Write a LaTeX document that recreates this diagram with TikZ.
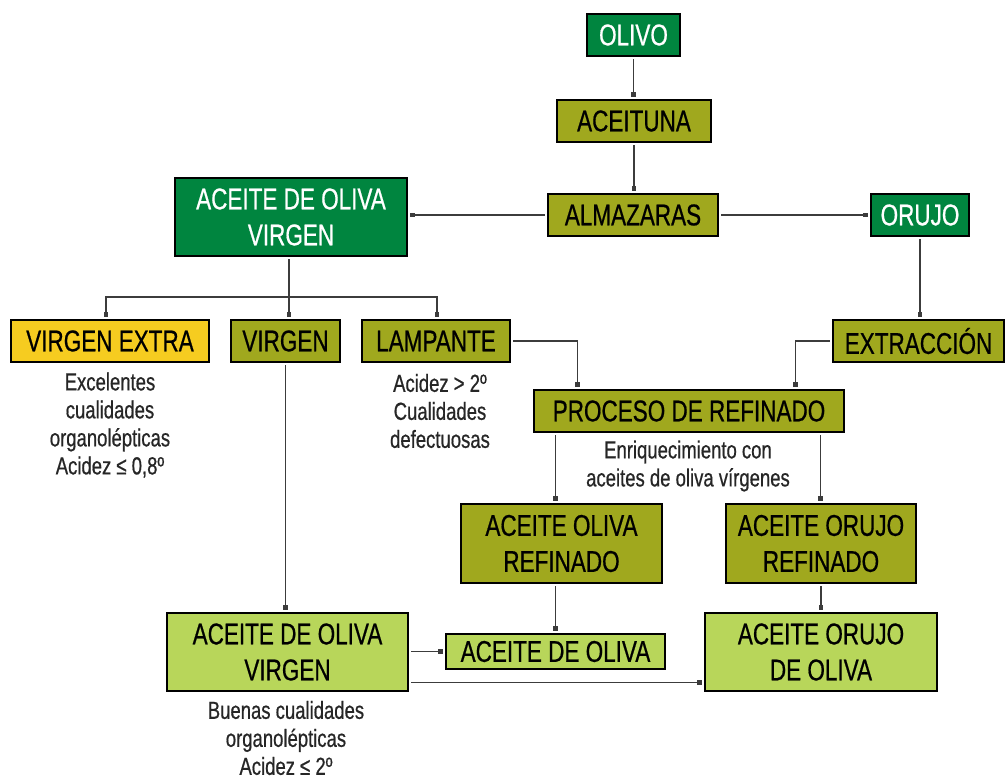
\documentclass[tikz,border=0pt]{standalone}
\usepackage{fontspec}
\setmainfont[FakeStretch=0.75,FakeBold=0.6]{Liberation Sans}
\usetikzlibrary{arrows.meta,calc}
\definecolor{dkgreen}{RGB}{0,133,63}
\definecolor{olive}{RGB}{160,168,30}
\definecolor{ltgreen}{RGB}{184,214,90}
\definecolor{gold}{RGB}{246,204,32}
\definecolor{linegray}{RGB}{60,60,60}
\newcommand{\bxfont}{\fontsize{22.5}{27}\selectfont}
\newcommand{\smfont}{\fontsize{18.5}{21}\selectfont}
\begin{document}
\begin{tikzpicture}[x=0.75pt,y=-0.75pt,
  box/.style={draw=black, line width=1.2pt, inner sep=0pt, align=center, font=\bxfont, minimum height=31.5pt},
  dkbox/.style={box, fill=dkgreen, text=white},
  olbox/.style={box, fill=olive, text=black},
  ltbox/.style={box, fill=ltgreen, text=black},
  ylbox/.style={box, fill=gold, text=black},
  note/.style={align=center, font=\smfont, inner sep=0pt, text=black!85},
  conn/.style={draw=linegray, line width=0.8pt, -{Square[length=3.6pt,width=3.6pt]}, shorten <=2pt, shorten >=2pt}
]
\path[use as bounding box, fill=white] (0,0) rectangle (1006,780);

\node[dkbox, minimum width=69.75pt] (olivo) at (633.5,35) {OLIVO};
\node[olbox, minimum width=115.5pt] (aceituna) at (634,121) {ACEITUNA};
\node[olbox, minimum width=127.5pt] (almazaras) at (633,215) {ALMAZARAS};
\node[dkbox, minimum width=73.5pt] (orujo) at (920,215) {ORUJO};
\node[dkbox, minimum width=174pt, minimum height=58.5pt] (aovtop) at (291,217) {ACEITE DE OLIVA\\VIRGEN};
\node[ylbox, minimum width=148.5pt] (vextra) at (110,341) {VIRGEN EXTRA};
\node[olbox, minimum width=81.75pt] (virgen) at (285.5,341) {VIRGEN};
\node[olbox, minimum width=111pt] (lampante) at (436,341) {LAMPANTE};
\node[olbox, minimum width=128.25pt] (extraccion) at (918.5,341) {EXTRACCIÓN};
\node[olbox, minimum width=232.5pt] (proceso) at (689,411) {PROCESO DE REFINADO};
\node[olbox, minimum width=150.75pt, minimum height=59.25pt] (aoref) at (561.5,543.5) {ACEITE OLIVA\\REFINADO};
\node[olbox, minimum width=142.5pt, minimum height=59.25pt] (aorujoref) at (821,543.5) {ACEITE ORUJO\\REFINADO};
\node[ltbox, minimum width=180.75pt, minimum height=58.5pt] (aovbot) at (287.5,652) {ACEITE DE OLIVA\\VIRGEN};
\node[ltbox, minimum width=164.25pt, minimum height=26.25pt] (aodo) at (555.5,651.5) {ACEITE DE OLIVA};
\node[ltbox, minimum width=174pt, minimum height=58.5pt] (aorujodo) at (821,652) {ACEITE ORUJO\\DE OLIVA};

\node[note] (n1) at (110,425) {Excelentes\\cualidades\\organolépticas\\Acidez ≤ 0,8º};
\node[note] (n2) at (440,411) {Acidez > 2º\\Cualidades\\defectuosas};
\node[note] (n3) at (688,466) {Enriquecimiento con\\aceites de oliva vírgenes};
\node[note] (n4) at (286,738) {Buenas cualidades\\organolépticas\\Acidez ≤ 2º};

\coordinate (br) at (289,297);
\coordinate (lampturn) at ($(proceso.north west)+(44,0)$);
\coordinate (extturn) at ($(proceso.north west)+(262,0)$);
\coordinate (procL) at ($(proceso.south west)+(22,0)$);
\coordinate (procR) at ($(proceso.south west)+(287,0)$);
\coordinate (lowstart) at ($(aovbot.south east)+(0,-9)$);

\draw[conn] (olivo.south) -- (olivo.south |- aceituna.north);
\draw[conn] (aceituna.south) -- (aceituna.south |- almazaras.north);
\draw[conn] (almazaras.west) -- (almazaras.west -| aovtop.east);
\draw[conn] (almazaras.east) -- (orujo.west);
\draw[conn] (orujo.south) -- (orujo.south |- extraccion.north);
\draw[conn] (aovtop.south -| br) -- (br |- virgen.north);
\draw[conn, shorten <=0pt] (br) -| ($(vextra.north)+(-4,0)$);
\draw[conn, shorten <=0pt] (br) -| ($(lampante.north)+(1,0)$);
\draw[conn] (lampante.east) -| (lampturn);
\draw[conn] (extraccion.west) -| (extturn);
\draw[conn] (virgen.south) -- (virgen.south |- aovbot.north);
\draw[conn] (procL) -- (procL |- aoref.north);
\draw[conn] (procR) -- (procR |- aorujoref.north);
\draw[conn] (aoref.south -| aodo.north) -- (aodo.north);
\draw[conn] (aorujoref.south) -- (aorujoref.south |- aorujodo.north);
\draw[conn] (aovbot.east |- aodo.west) -- (aodo.west);
\draw[conn] (lowstart) -- (lowstart -| aorujodo.west);
\end{tikzpicture}
\end{document}
